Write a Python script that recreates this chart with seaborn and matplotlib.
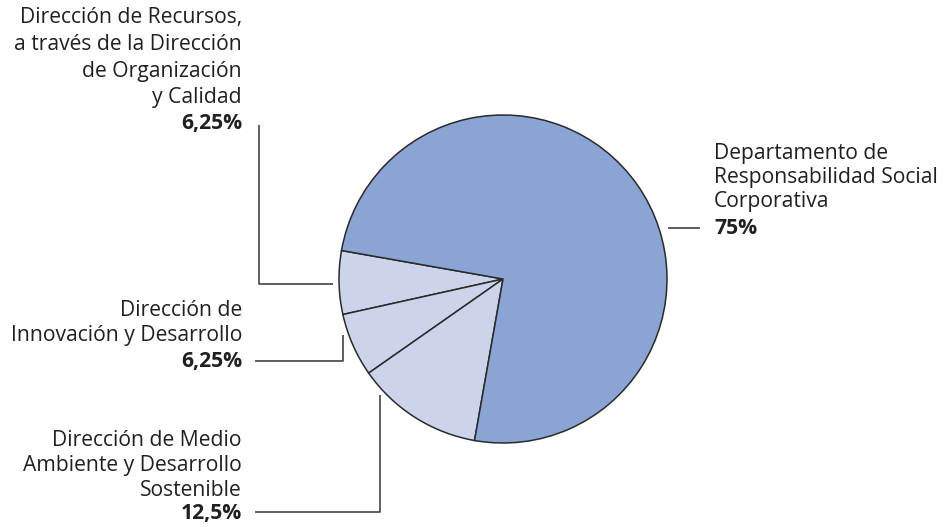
import matplotlib
matplotlib.use("Agg")
import matplotlib.pyplot as plt
import seaborn as sns

# Share of responsibility by department
areas = [
    "Dirección de Recursos,\na través de la Dirección\nde Organización\ny Calidad",
    "Dirección de\nInnovación y Desarrollo",
    "Dirección de Medio\nAmbiente y Desarrollo\nSostenible",
    "Departamento de\nResponsabilidad Social\nCorporativa",
]
shares = [6.25, 6.25, 12.5, 75]
share_labels = ["6,25%", "6,25%", "12,5%", "75%"]

sns.set_theme(style="white")
plt.rcParams["font.family"] = ["Open Sans", "DejaVu Sans"]

W, H = 944, 527
fig = plt.figure(figsize=(W / 100, H / 100), dpi=100)
ax = fig.add_axes([0, 0, 1, 1])


def yy(y):
    # convert from top-down pixel rows to axis units
    return H - y


light = "#cbd4ea"
strong = "#8aa4d3"
ax.pie(shares, colors=[light, light, light, strong], startangle=170,
       counterclock=True, center=(503, yy(279)), radius=164,
       wedgeprops=dict(edgecolor="#2a2a2a", linewidth=1.1), frame=True)
ax.set_xlim(0, W)
ax.set_ylim(0, H)
ax.axis("off")

ink = "#231f20"
line_c = "#333333"
fs = 15.2

# leader lines
leaders = [
    [(259, 125), (259, 284), (333, 284)],
    [(255, 361), (343, 361), (343, 335)],
    [(255, 512), (380, 512), (380, 395)],
    [(668, 228), (700, 228)],
]
for pts in leaders:
    ax.plot([p[0] for p in pts], [yy(p[1]) for p in pts], color=line_c, lw=1.1,
            solid_capstyle="butt")

# label text, one row at a time
blocks = [
    (242, "right", [18, 45, 71, 97], 123),
    (242, "right", [310, 336], 362),
    (242, "right", [440, 466, 490], 514),
    (714, "left", [153, 177, 201], 228),
]
for (x, ha, rows, pct_y), name, pct in zip(blocks, areas, share_labels):
    for row_y, line in zip(rows, name.split("\n")):
        ax.text(x, yy(row_y), line, ha=ha, va="center", fontsize=fs, color=ink)
    ax.text(x, yy(pct_y), pct, ha=ha, va="center", fontsize=fs, color=ink,
            fontweight="bold")

fig.savefig("out.png", dpi=100)
